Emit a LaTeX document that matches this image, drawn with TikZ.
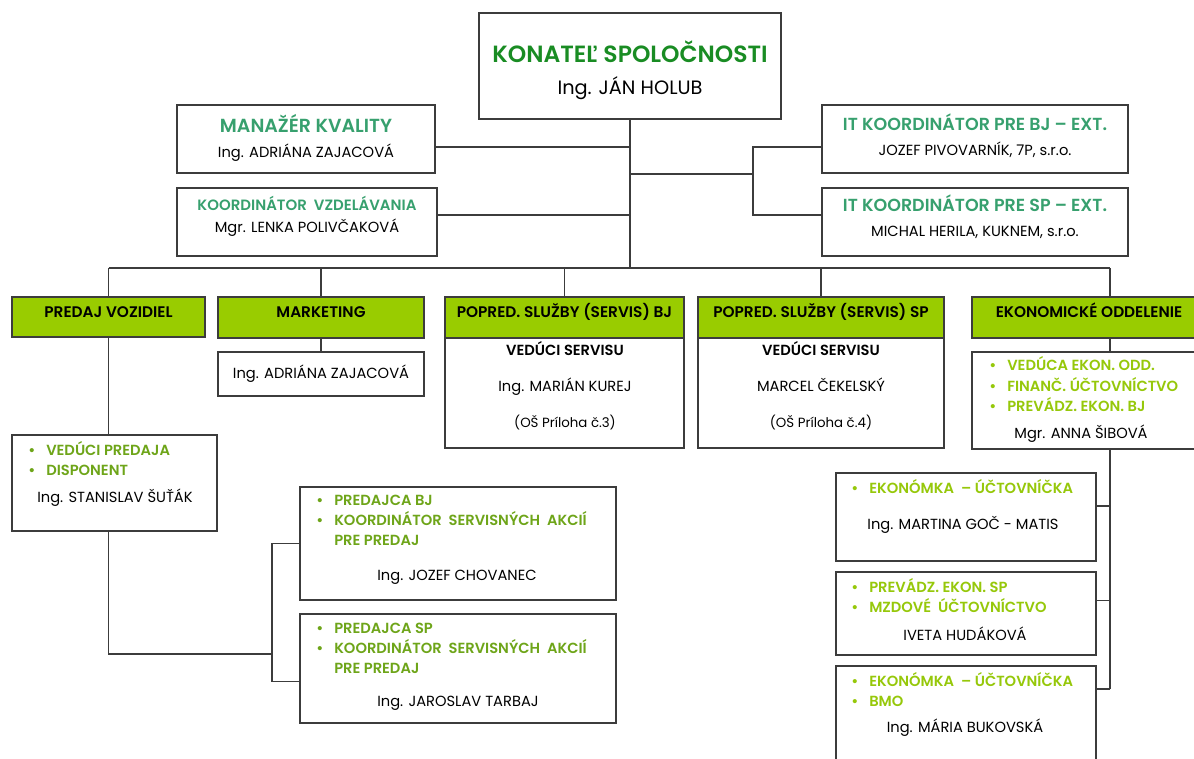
\documentclass[tikz,border=0pt]{standalone}
\usepackage{fontspec}
\setmainfont{Poppins}[BoldFont={* SemiBold}]
\definecolor{linegray}{RGB}{60,60,60}
\definecolor{bossgreen}{RGB}{25,140,35}
\definecolor{tealgreen}{RGB}{55,160,110}
\definecolor{olivegreen}{RGB}{110,165,25}
\definecolor{limegreen}{RGB}{150,200,10}
\definecolor{headgreen}{RGB}{153,204,0}
\newcommand{\blist}[1]{\begin{tabular}{@{}p{13.5pt}@{}l@{}}#1\end{tabular}}
\newcommand{\bul}{\textbullet &}

\tikzset{box/.style = {shape=rectangle, draw=linegray, line width=0.9pt, inner sep=0pt}}
\tikzset{wh/.style 2 args = {minimum width=#1*0.75pt, minimum height=#2*0.75pt}}
\tikzset{head/.style = {box, fill=headgreen, text height=7.5pt, text depth=7pt,
    font=\bfseries\fontsize{11.5}{13}\selectfont}}
\tikzset{person/.style = {inner sep=0pt, font=\fontsize{11}{13}\selectfont}}
\tikzset{jobtitle/.style = {inner sep=0pt, text=tealgreen, font=\bfseries\fontsize{13.1}{15}\selectfont}}
\tikzset{olivelist/.style = {anchor=west, inner sep=0pt, text=olivegreen,
    font=\bfseries\fontsize{11}{15}\selectfont}}
\tikzset{limelist/.style = {olivelist, text=limegreen}}
\tikzset{conn/.style = {draw=linegray, line width=0.8pt}}

\begin{document}
\begin{tikzpicture}[x=0.75pt, y=-0.75pt]
		\fill[white] (0,0) rectangle (1194,758);
		\useasboundingbox (0,0) rectangle (1194,758);
		% Boxes
		\node[box, wh={302}{106}] (boss)  at ( 630, 66) {};
		\node[box, wh={258}{68}]  (kval)  at ( 306,139) {};
		\node[box, wh={260}{68}]  (vzdel) at ( 307,222) {};
		\node[box, wh={306}{68}]  (itbj)  at ( 975,139) {};
		\node[box, wh={306}{68}]  (itsp)  at ( 975,222) {};
		\node[head, wh={193}{40}] (hpred) at (108.5,317) {PREDAJ VOZIDIEL};
		\node[head, wh={206}{41}] (hmark) at ( 321,317.5) {MARKETING};
		\node[head, wh={239}{41}] (hsbj)  at (564.5,317.5) {POPRED. SLUŽBY (SERVIS) BJ};
		\node[head, wh={246}{41}] (hssp)  at ( 821,317.5) {POPRED. SLUŽBY (SERVIS) SP};
		\node[head, wh={234}{41}] (hekon) at (1089,317.5) {EKONOMICKÉ ODDELENIE};
		\node[box, wh={239}{110}] (sbj)   at (564.5,393) {};
		\node[box, wh={246}{110}] (ssp)   at ( 821,393) {};
		\node[box, wh={206}{44}, person] (mark) at (321,374) {Ing. ADRIÁNA ZAJACOVÁ};
		\node[box, wh={228}{97}]  (ekon)  at (1086,400.5) {};
		\node[box, wh={205}{96}]  (sales) at (114.5,483) {};
		\node[box, wh={316}{113}] (pbj)   at ( 458,543.5) {};
		\node[box, wh={316}{109}] (psp)   at ( 458,668.5) {};
		\node[box, wh={260}{88}]  (eko1)  at ( 966,517) {};
		\node[box, wh={260}{83}]  (eko2)  at ( 966,613.5) {};
		\node[box, wh={260}{124}] (eko3)  at ( 966,728) {};
		% Texts
		\node[inner sep=0pt, text=bossgreen, font=\bfseries\fontsize{17.6}{20}\selectfont]
		  (bossT) at (630,52) {KONATEĽ SPOLOČNOSTI};
		\node[person, font=\fontsize{14.5}{16}\selectfont] (bossN) at (630,88) {Ing. JÁN HOLUB};
		\node[jobtitle, font=\bfseries\fontsize{14.2}{16}\selectfont] (kvalT) at (306,123) {MANAŽÉR KVALITY};
		\node[person]   (kvalN)  at (306,153) {Ing. ADRIÁNA ZAJACOVÁ};
		\node[jobtitle, font=\bfseries\fontsize{11.2}{13}\selectfont] (vzdelT) at (307,203) {KOORDINÁTOR\ \ VZDELÁVANIA};
		\node[person]   (vzdelN) at (307,228) {Mgr. LENKA POLIVČAKOVÁ};
		\node[jobtitle] (itbjT)  at (975,122) {IT KOORDINÁTOR PRE BJ – EXT.};
		\node[person]   (itbjN)  at (975,150) {JOZEF PIVOVARNÍK, 7P, s.r.o.};
		\node[jobtitle] (itspT)  at (975,203) {IT KOORDINÁTOR PRE SP – EXT.};
		\node[person]   (itspN)  at (975,232) {MICHAL HERILA, KUKNEM, s.r.o.};
		\node[person, align=center, font=\fontsize{11}{27}\selectfont] (sbjT) at (565,386)
		  {\textbf{VEDÚCI SERVISU}\\Ing. MARIÁN KUREJ\\{\fontsize{10}{12}\selectfont(OŠ Príloha č.3)}};
		\node[person, align=center, font=\fontsize{11}{27}\selectfont] (sspT) at (821,386)
		  {\textbf{VEDÚCI SERVISU}\\MARCEL ČEKELSKÝ\\{\fontsize{10}{12}\selectfont(OŠ Príloha č.4)}};
		\node[olivelist] (salesL) at (28,461) {\blist{\bul VEDÚCI PREDAJA\\ \bul DISPONENT}};
		\node[person] (salesN) at (115,498) {Ing. STANISLAV ŠUŤÁK};
		\node[olivelist] (pbjL) at (316,521.7)
		  {\blist{\bul PREDAJCA BJ\\ \bul KOORDINÁTOR\ \ SERVISNÝCH\ \ AKCIÍ\\ & PRE PREDAJ}};
		\node[person] (pbjN) at (457,577) {Ing. JOZEF CHOVANEC};
		\node[olivelist] (pspL) at (316,649.3)
		  {\blist{\bul PREDAJCA SP\\ \bul KOORDINÁTOR\ \ SERVISNÝCH\ \ AKCIÍ\\ & PRE PREDAJ}};
		\node[person] (pspN) at (458,703) {Ing. JAROSLAV TARBAJ};
		\node[limelist] (ekonL) at (989,387)
		  {\blist{\bul VEDÚCA EKON. ODD.\\ \bul FINANČ. ÚČTOVNÍCTVO\\ \bul PREVÁDZ. EKON. BJ}};
		\node[person] (ekonN) at (1081,434) {Mgr. ANNA ŠIBOVÁ};
		\node[limelist] (eko1L) at (851,489) {\blist{\bul EKONÓMKA\ \ – ÚČTOVNÍČKA}};
		\node[person] (eko1N) at (963,525) {Ing. MARTINA GOČ - MATIS};
		\node[limelist] (eko2L) at (851,598) {\blist{\bul PREVÁDZ. EKON. SP\\ \bul MZDOVÉ\ \ ÚČTOVNÍCTVO}};
		\node[person] (eko2N) at (965,634) {IVETA HUDÁKOVÁ};
		\node[limelist] (eko3L) at (851,692) {\blist{\bul EKONÓMKA\ \ – ÚČTOVNÍČKA\\ \bul BMO}};
		\node[person] (eko3N) at (965,728) {Ing. MÁRIA BUKOVSKÁ};
		% Lines
		\coordinate (bus)    at ( 630,268);
		\coordinate (itfork) at ( 753,174);
		\coordinate (ekdrop) at (1110,268);
		\coordinate (pfork)  at ( 272,654);
		\coordinate (ekend)  at (1110,689);
		\draw[conn] (boss.south) -- (bus);
		\draw[conn] (hpred.north |- bus) -- (ekdrop);
		\foreach \n in {hpred, hmark, hsbj, hssp}
			\draw[conn] (\n.north |- bus) -- (\n.north);
		\draw[conn] (ekdrop) -- (ekdrop |- hekon.north);
		\draw[conn] ([yshift=-6pt]kval.east) -- ([yshift=-6pt]kval.east -| boss.south);
		\draw[conn] ([yshift=5.25pt]vzdel.east) -- ([yshift=5.25pt]vzdel.east -| boss.south);
		\draw[conn] ([yshift=-6pt]itbj.west) -| (itfork) |- ([yshift=5.25pt]itsp.west);
		\draw[conn] (itfork) -- (itfork -| boss.south);
		\draw[conn] (hmark.south) -- (mark.north);
		\draw[conn] (ekdrop |- hekon.south) -- (ekdrop |- ekon.north);
		\draw[conn] (hpred.south) -- (hpred.south |- sales.north);
		\draw[conn] (hpred.south |- sales.south) |- (pfork);
		\draw[conn] (pbj.west) -| (pfork) |- ([yshift=-10pt]psp.west);
		\draw[conn] (ekdrop |- ekon.south) -- (ekend);
		\foreach \n/\s in {eko1/8.25pt, eko2/10pt}
			\draw[conn] ([yshift=\s]\n.east) -- ([yshift=\s]\n.east -| ekend);
		\draw[conn] (ekend) -- (ekend -| eko3.east);
\end{tikzpicture}
\end{document}
